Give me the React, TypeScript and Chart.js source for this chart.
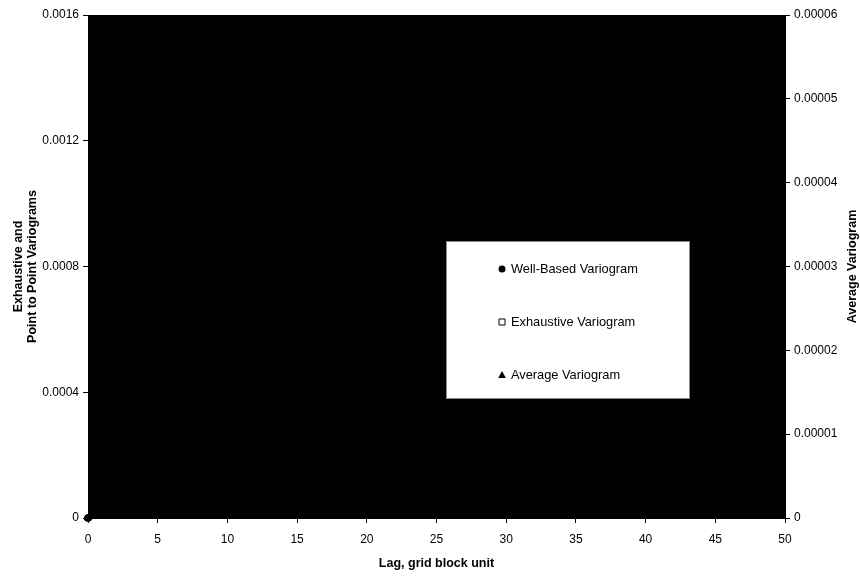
import React, { useEffect, useRef } from 'react';
import { Chart, registerables } from 'chart.js';

Chart.register(...registerables);

// ---- data ----
const seriesLabels = ['Well-Based Variogram', 'Exhaustive Variogram', 'Average Variogram'];
const wellLags = [0];
const wellValues = [0];
const exhaustiveLags = [0];
const exhaustiveValues = [0];
const averageLags = [0];
const averageValues = [0];

const xTickValues = [0, 5, 10, 15, 20, 25, 30, 35, 40, 45, 50];
const leftTickValues = [0, 0.0004, 0.0008, 0.0012, 0.0016];
const leftTickLabels = ['0', '0.0004', '0.0008', '0.0012', '0.0016'];
const rightTickValues = [0, 0.00001, 0.00002, 0.00003, 0.00004, 0.00005, 0.00006];
const rightTickLabels = ['0', '0.00001', '0.00002', '0.00003', '0.00004', '0.00005', '0.00006'];
const rightAxisTitle = 'Average Variogram';

const FONT = '"Liberation Sans", Arial, Helvetica, sans-serif';

const toPoints = (xs: number[], ys: number[]) => xs.map((x, i) => ({ x, y: ys[i] }));

const plotBgPlugin = {
  id: 'plotBg',
  beforeDraw(chart: any) {
    const { ctx, chartArea: a } = chart;
    ctx.save();
    ctx.fillStyle = '#000';
    ctx.fillRect(a.left, a.top, a.right - a.left, a.bottom - a.top);
    ctx.restore();
  },
};

const rightTitlePlugin = {
  id: 'rightTitle',
  afterDraw(chart: any) {
    const { ctx, chartArea: a } = chart;
    const s = chart.scales.y2;
    ctx.save();
    ctx.translate(s.right - 7, (a.top + a.bottom) / 2);
    ctx.rotate(-Math.PI / 2);
    ctx.fillStyle = '#000';
    ctx.font = `bold 12.5px ${FONT}`;
    ctx.textAlign = 'center';
    ctx.textBaseline = 'middle';
    ctx.fillText(rightAxisTitle, 0, 0);
    ctx.restore();
  },
};

function drawMarker(ctx: CanvasRenderingContext2D, style: string, x: number, y: number, fill: string, stroke: string) {
  ctx.save();
  ctx.fillStyle = fill;
  ctx.strokeStyle = stroke;
  ctx.lineWidth = 1;
  ctx.beginPath();
  if (style === 'circle') {
    ctx.arc(x, y, 3.5, 0, Math.PI * 2);
    ctx.fill();
  } else if (style === 'rect') {
    ctx.rect(x - 3, y - 3, 6, 6);
    ctx.fill();
    ctx.stroke();
  } else {
    ctx.moveTo(x, y - 4);
    ctx.lineTo(x + 3.8, y + 3);
    ctx.lineTo(x - 3.8, y + 3);
    ctx.closePath();
    ctx.fill();
  }
  ctx.restore();
}

const legendBoxPlugin = {
  id: 'legendBox',
  afterDraw(chart: any) {
    const { ctx, chartArea: a } = chart;
    const w = a.right - a.left;
    const h = a.bottom - a.top;
    const x0 = a.left + w * 0.5136;
    const x1 = a.left + w * 0.8637;
    const y0 = a.top + h * 0.4493;
    const y1 = a.top + h * 0.7634;
    ctx.save();
    ctx.fillStyle = '#fff';
    ctx.fillRect(x0, y0, x1 - x0, y1 - y0);
    ctx.strokeStyle = '#888';
    ctx.lineWidth = 1;
    ctx.strokeRect(Math.round(x0) + 0.5, Math.round(y0) + 0.5, Math.round(x1 - x0) - 1, Math.round(y1 - y0) - 1);
    const mx = a.left + w * 0.594;
    chart.data.datasets.forEach((ds: any, i: number) => {
      const y = y0 + 28 + i * 53;
      drawMarker(ctx, ds.pointStyle, mx, y, ds.pointBackgroundColor, ds.pointBorderColor);
      ctx.fillStyle = '#000';
      ctx.font = `12.8px ${FONT}`;
      ctx.textAlign = 'left';
      ctx.textBaseline = 'middle';
      ctx.fillText(ds.label, mx + 9, y + 0.5);
    });
    ctx.restore();
  },
};

const tickFont = { family: FONT, size: 12 };
const titleFont = { family: FONT, size: 12.5, weight: 'bold' as const, lineHeight: 1.12 };

export default function App() {
  const ref = useRef<HTMLCanvasElement | null>(null);

  useEffect(() => {
    if (!ref.current) return;
    const chart = new Chart(ref.current, {
      type: 'scatter',
      data: {
        datasets: [
          {
            label: seriesLabels[0],
            data: toPoints(wellLags, wellValues),
            yAxisID: 'y',
            pointStyle: 'circle',
            pointRadius: 3.5,
            pointBackgroundColor: '#000',
            pointBorderColor: '#000',
            showLine: false,
            clip: false,
          } as any,
          {
            label: seriesLabels[1],
            data: toPoints(exhaustiveLags, exhaustiveValues),
            yAxisID: 'y',
            pointStyle: 'rect',
            pointRadius: 3.5,
            pointBackgroundColor: '#fff',
            pointBorderColor: '#000',
            showLine: false,
            clip: false,
          } as any,
          {
            label: seriesLabels[2],
            data: toPoints(averageLags, averageValues),
            yAxisID: 'y2',
            pointStyle: 'triangle',
            pointRadius: 4,
            pointBackgroundColor: '#000',
            pointBorderColor: '#000',
            showLine: false,
            clip: false,
          } as any,
        ],
      },
      options: {
        animation: false,
        responsive: true,
        maintainAspectRatio: false,
        layout: { padding: { top: 15, left: 0, right: 0, bottom: 0 } },
        plugins: {
          legend: { display: false },
          tooltip: { enabled: false },
        },
        scales: {
          x: {
            type: 'linear',
            position: 'bottom',
            min: 0,
            max: 50,
            afterBuildTicks: (s: any) => { s.ticks = xTickValues.map((v) => ({ value: v })); },
            afterFit: (s: any) => { s.height = 58; },
            ticks: { font: tickFont, color: '#000', padding: 9, callback: (v: any) => String(v) },
            grid: { drawOnChartArea: false, tickLength: 5, color: '#000' },
            border: { display: true, color: '#000' },
            title: {
              display: true,
              text: 'Lag, grid block unit',
              font: titleFont,
              color: '#000',
              padding: { top: 0, bottom: 5 },
            },
          },
          y: {
            type: 'linear',
            position: 'left',
            min: 0,
            max: 0.0016,
            afterBuildTicks: (s: any) => { s.ticks = leftTickValues.map((v) => ({ value: v })); },
            afterFit: (s: any) => { s.width = 88; },
            ticks: {
              font: tickFont,
              color: '#000',
              padding: 4,
              callback: (_v: any, i: number) => leftTickLabels[i],
            },
            grid: { drawOnChartArea: false, tickLength: 5, color: '#000' },
            border: { display: true, color: '#000' },
            title: {
              display: true,
              text: ['Exhaustive and', 'Point to Point Variograms'],
              font: titleFont,
              color: '#000',
              padding: { top: 11.5, bottom: 0 },
            },
          },
          y2: {
            type: 'linear',
            position: 'right',
            min: 0,
            max: 0.00006,
            afterBuildTicks: (s: any) => { s.ticks = rightTickValues.map((v) => ({ value: v })); },
            afterFit: (s: any) => { s.width = 75; },
            ticks: {
              font: tickFont,
              color: '#000',
              padding: 4,
              callback: (_v: any, i: number) => rightTickLabels[i],
            },
            grid: { drawOnChartArea: false, tickLength: 5, color: '#000' },
            border: { display: true, color: '#000' },
            title: { display: false },
          },
        },
      } as any,
      plugins: [plotBgPlugin, legendBoxPlugin, rightTitlePlugin],
    });
    return () => chart.destroy();
  }, []);

  return (
    <div style={{ position: 'fixed', left: 0, top: 0, width: 860, height: 576, background: '#fff' }}>
      <canvas ref={ref} />
    </div>
  );
}
